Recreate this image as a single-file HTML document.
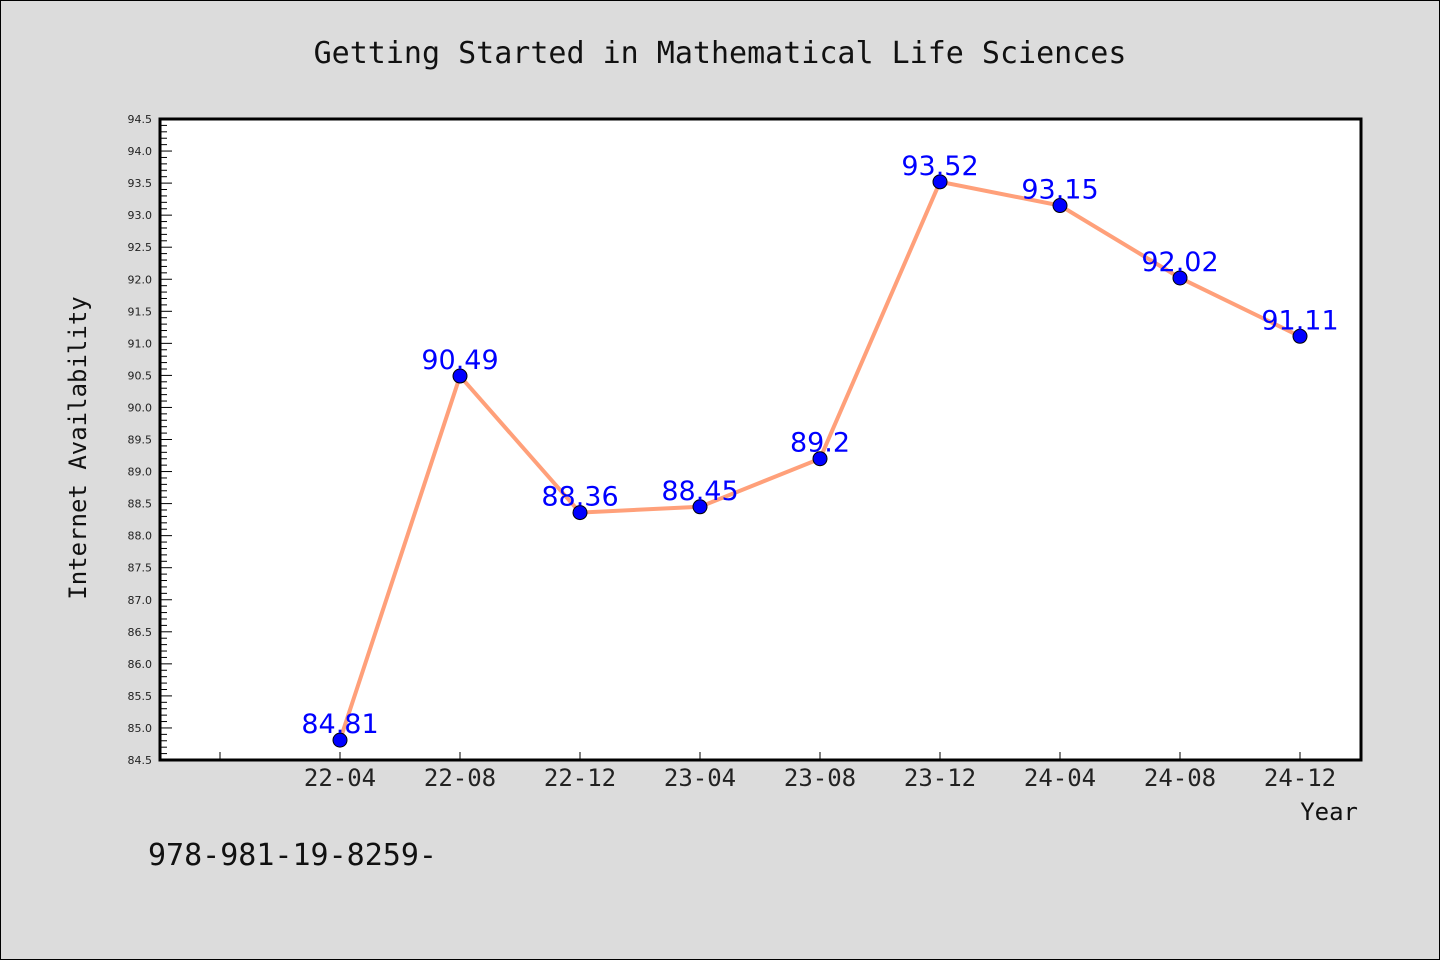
<!DOCTYPE html>
<html><head><meta charset="utf-8"><style>
html,body{margin:0;padding:0;background:#dcdcdc;}
svg{display:block;}
</style></head><body>
<svg id="chart" width="1440" height="960" xmlns="http://www.w3.org/2000/svg">
<rect x="0.5" y="0.5" width="1439" height="959" fill="#dcdcdc" stroke="#000"/>
<text x="720" y="63" text-anchor="middle" font-family="DejaVu Sans Mono, Liberation Mono, monospace" font-size="30" fill="#111">Getting Started in Mathematical Life Sciences</text>
<rect x="160" y="119" width="1201" height="641" fill="#fff" stroke="#000" stroke-width="3"/>
<g id="yticks"></g><g id="xticks"></g><g id="series"></g>
<text transform="translate(86,448) rotate(-90)" text-anchor="middle" font-family="DejaVu Sans Mono, Liberation Mono, monospace" font-size="24" fill="#111">Internet Availability</text>
<text x="1358" y="820" text-anchor="end" font-family="DejaVu Sans Mono, Liberation Mono, monospace" font-size="24" fill="#111">Year</text>
<text x="148" y="865" font-family="DejaVu Sans Mono, Liberation Mono, monospace" font-size="30" fill="#111">978-981-19-8259-</text>
</svg>
<script>
const categories = ["22-04","22-08","22-12","23-04","23-08","23-12","24-04","24-08","24-12"];
const values = [84.81,90.49,88.36,88.45,89.2,93.52,93.15,92.02,91.11];
const valueLabels = ["84.81","90.49","88.36","88.45","89.2","93.52","93.15","92.02","91.11"];
const yTickLabels = ["84.5","85.0","85.5","86.0","86.5","87.0","87.5","88.0","88.5","89.0","89.5","90.0","90.5","91.0","91.5","92.0","92.5","93.0","93.5","94.0","94.5"];
const yMin=84.5,yMax=94.5,yTopPx=119,yBotPx=760,xLeftPx=160;
const NS="http://www.w3.org/2000/svg";
function yScale(v){return yBotPx-(v-yMin)/(yMax-yMin)*(yBotPx-yTopPx);}
function xScale(i){return 340+120*i;}
function mk(tag,attrs,parent){const e=document.createElementNS(NS,tag);for(const k in attrs)e.setAttribute(k,attrs[k]);parent.appendChild(e);return e;}
const yg=document.getElementById('yticks');
for(let k=0;k<=100;k++){
  const v=yMin+k*0.1, yy=yScale(v), major=k%5===0;
  const t=mk('line',{x1:xLeftPx,x2:xLeftPx+(major?12:7),y1:yy,y2:yy,stroke:'#000','stroke-width':1},yg);
  
  
}
yTickLabels.forEach(s=>{
  const t=mk('text',{x:152,y:yScale(parseFloat(s))+4,'text-anchor':'end','font-family':'DejaVu Sans, Liberation Sans, sans-serif','font-size':11,fill:'#222'},yg);
  t.textContent=s;
  
  
});
const xg=document.getElementById('xticks');
const t0=mk('line',{x1:xScale(-1),x2:xScale(-1),y1:yBotPx,y2:yBotPx-8,stroke:'#000'},xg);


categories.forEach((c,i)=>{
  const l=mk('line',{x1:xScale(i),x2:xScale(i),y1:yBotPx,y2:yBotPx-8,stroke:'#000'},xg);
  
  
  const t=mk('text',{x:xScale(i),y:786,'text-anchor':'middle','font-family':'DejaVu Sans Mono, Liberation Mono, monospace','font-size':24,fill:'#222'},xg);
  t.textContent=c;
  
  
});
const sg=document.getElementById('series');
const line=mk('polyline',{points:values.map((v,i)=>xScale(i)+','+yScale(v)).join(' '),fill:'none',stroke:'#ffa07a','stroke-width':4},sg);


values.forEach((v,i)=>{
  const c=mk('circle',{cx:xScale(i),cy:yScale(v),r:7,fill:'#0000ff',stroke:'#000','stroke-width':1},sg);
  
  
  const t=mk('text',{x:xScale(i),y:yScale(v)-7,'text-anchor':'middle','font-family':'DejaVu Sans, Liberation Sans, sans-serif','font-size':27,fill:'#0000ff'},sg);
  t.textContent=valueLabels[i];
  
  
});
</script>
</body></html>
